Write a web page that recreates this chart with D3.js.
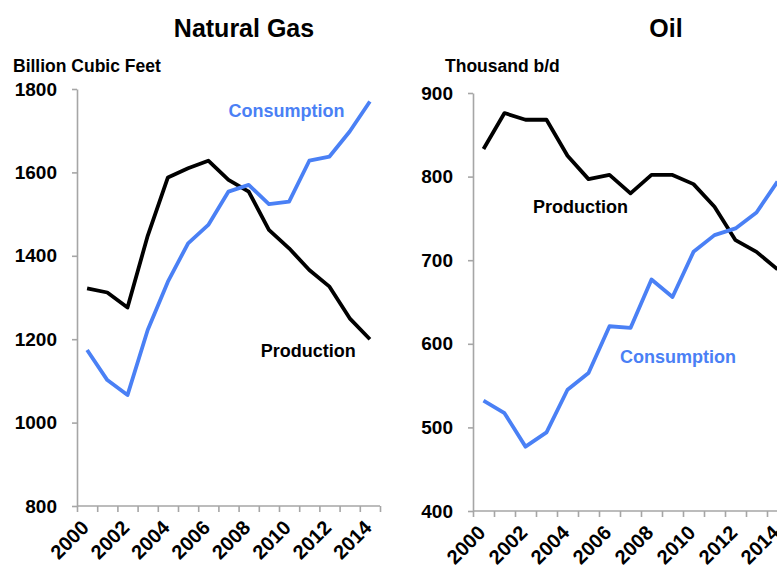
<!DOCTYPE html>
<html>
<head>
<meta charset="utf-8">
<script src="https://cdn.jsdelivr.net/npm/d3@7"></script>
<style>
  body { margin: 0; background: #fff; }
  svg { display: block; font-family: "Liberation Sans", Arial, sans-serif; font-weight: bold; }
  .axis path, .axis line { stroke: #a6a6a6; stroke-width: 1.6px; }
</style>
</head>
<body>
<svg id="chart" width="777" height="569"></svg>
<script>
const years = d3.range(2000, 2015);
const yearLabels = [2000, 2002, 2004, 2006, 2008, 2010, 2012, 2014];

// Natural gas, billion cubic feet
const gasProduction  = [1322, 1312, 1276, 1448, 1588, 1610, 1628, 1582, 1554, 1462, 1418, 1366, 1326, 1250, 1200];
const gasConsumption = [1174, 1102, 1066, 1222, 1338, 1430, 1474, 1554, 1570, 1524, 1530, 1628, 1638, 1698, 1770];
const gasTicks = [800, 1000, 1200, 1400, 1600, 1800];

// Oil, thousand b/d
const oilProduction  = [833, 876, 868, 868, 825, 797, 802, 780, 802, 802, 791, 764, 724, 710, 689];
const oilConsumption = [532, 517, 477, 494, 545, 565, 621, 619, 677, 656, 710, 730, 738, 757, 794];
const oilTicks = [400, 500, 600, 700, 800, 900];

const BLUE = "#4a80f5";

const svg = d3.select("#chart");

function drawPanel(opts) {
    const g = svg.append("g");
    const x = d3.scaleLinear().domain([1999.5, 2014.5]).range(opts.xRange);
    const y = d3.scaleLinear().domain(opts.yDomain).range(opts.yRange);
    const x0 = opts.xRange[0];
    const yBase = opts.yRange[0];

    // panel title and unit
    g.append("text")
        .attr("x", opts.titleX).attr("y", 37)
        .attr("text-anchor", "middle")
        .attr("font-size", "25px")
        .text(opts.title);
    g.append("text")
        .attr("x", opts.unitX).attr("y", 72)
        .attr("font-size", "17.5px")
        .text(opts.unit);

    // y axis
    const yAxis = g.append("g")
        .attr("class", "axis")
        .attr("transform", `translate(${x0},0)`)
        .call(d3.axisLeft(y).tickValues(opts.ticks).tickFormat(d3.format("d"))
            .tickSize(5).tickSizeOuter(0).tickPadding(15));
    yAxis.selectAll("text")
        .attr("font-size", "19px")
        .attr("font-family", "Liberation Sans, Arial, sans-serif")
        .attr("font-weight", "bold")
        .attr("fill", "#000");

    // x axis: ticks between categories
    const xAxis = g.append("g")
        .attr("class", "axis")
        .attr("transform", `translate(0,${yBase})`)
        .call(d3.axisBottom(x).tickValues(d3.range(1999.5, 2015, 1)).tickSize(6).tickSizeOuter(0).tickFormat(""));
    xAxis.select(".domain").attr("d", `M${x0},0H${opts.xRange[1]}`);

    g.selectAll(".year-label")
        .data(yearLabels)
        .join("text")
        .attr("class", "year-label")
        .attr("font-size", "20px")
        .attr("text-anchor", "end")
        .attr("transform", d => `translate(${x(d) + 3},${yBase + 23}) rotate(-45)`)
        .text(d => d);

    const line = d3.line()
        .x((d, i) => x(years[i]))
        .y(d => y(d));

    g.append("path")
        .datum(opts.production)
        .attr("fill", "none")
        .attr("stroke", "#000")
        .attr("stroke-width", 3.8)
        .attr("stroke-linejoin", "round")
        .attr("d", line);

    g.append("path")
        .datum(opts.consumption)
        .attr("fill", "none")
        .attr("stroke", BLUE)
        .attr("stroke-width", 3.8)
        .attr("stroke-linejoin", "round")
        .attr("d", line);

    // series labels
    opts.labels.forEach(l => {
        g.append("text")
            .attr("x", x(l.year)).attr("y", y(l.value))
            .attr("font-size", "18px")
            .attr("fill", l.color)
            .text(l.text);
    });
}

drawPanel({
    title: "Natural Gas", titleX: 244,
    unit: "Billion Cubic Feet", unitX: 13,
    xRange: [77, 380], yRange: [506, 89], yDomain: [800, 1800],
    ticks: gasTicks,
    production: gasProduction, consumption: gasConsumption,
    labels: [
        { text: "Consumption", year: 2007.0, value: 1733, color: BLUE },
        { text: "Production", year: 2008.6, value: 1157, color: "#000" }
    ]
});

drawPanel({
    title: "Oil", titleX: 666,
    unit: "Thousand b/d", unitX: 445,
    xRange: [473, 788], yRange: [511, 93], yDomain: [400, 900],
    ticks: oilTicks,
    production: oilProduction, consumption: oilConsumption,
    labels: [
        { text: "Production", year: 2002.36, value: 756, color: "#000" },
        { text: "Consumption", year: 2006.5, value: 577, color: BLUE }
    ]
});
</script>
</body>
</html>
